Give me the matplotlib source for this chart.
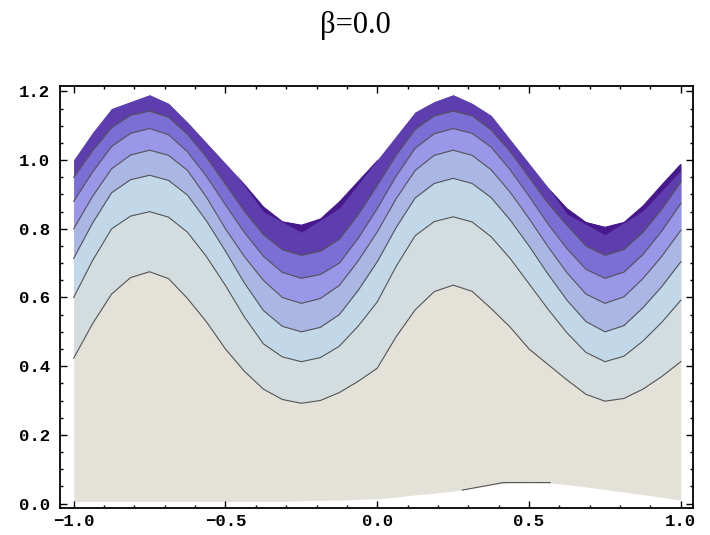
import numpy as np
import matplotlib
matplotlib.use('Agg')
from matplotlib import pyplot as plt
from matplotlib.ticker import MultipleLocator, FuncFormatter
from matplotlib.patches import Polygon

xs = [-1.0, -0.9375, -0.875, -0.8125, -0.75, -0.6875, -0.625, -0.5625, -0.5,
      -0.4375, -0.375, -0.3125, -0.25, -0.1875, -0.125, -0.0625, 0.0,
      0.0625, 0.125, 0.1875, 0.25, 0.3125, 0.375, 0.4375, 0.5,
      0.5625, 0.625, 0.6875, 0.75, 0.8125, 0.875, 0.9375, 1.0]

# upper edge of the filled region (wavy wall)
top_edge = [1.00, 1.08, 1.15, 1.17, 1.19, 1.165, 1.11, 1.05, 0.99,
            0.93, 0.865, 0.822, 0.812, 0.83, 0.88, 0.94, 1.00,
            1.07, 1.14, 1.17, 1.19, 1.165, 1.13, 1.06, 0.99,
            0.92, 0.86, 0.82, 0.806, 0.82, 0.868, 0.93, 0.99]
# lower edge of the filled region
bottom_edge = [0.006, 0.006, 0.006, 0.006, 0.006, 0.006, 0.006, 0.006, 0.006,
               0.006, 0.006, 0.006, 0.008, 0.009, 0.010, 0.012, 0.014,
               0.019, 0.025, 0.030, 0.036, 0.045, 0.054, 0.060, 0.061,
               0.060, 0.055, 0.048, 0.041, 0.033, 0.026, 0.018, 0.010]

# contour lines, top to bottom
line_1 = [0.95, 1.028, 1.095, 1.131, 1.143, 1.125, 1.075, 1.008, 0.93,
          0.851, 0.783, 0.739, 0.723, 0.735, 0.77, 0.842, 0.927,
          1.015, 1.09, 1.129, 1.143, 1.129, 1.088, 1.025, 0.95,
          0.874, 0.81, 0.750, 0.723, 0.740, 0.79, 0.858, 0.937]
line_2 = [0.88, 0.966, 1.04, 1.078, 1.092, 1.074, 1.024, 0.953, 0.87,
          0.789, 0.72, 0.673, 0.656, 0.667, 0.70, 0.773, 0.859,
          0.954, 1.035, 1.077, 1.092, 1.078, 1.038, 0.972, 0.895,
          0.814, 0.742, 0.682, 0.656, 0.674, 0.725, 0.794, 0.874]
line_3 = [0.80, 0.895, 0.975, 1.015, 1.029, 1.014, 0.97, 0.892, 0.80,
          0.719, 0.65, 0.600, 0.583, 0.597, 0.635, 0.707, 0.791,
          0.888, 0.97, 1.014, 1.029, 1.014, 0.972, 0.907, 0.83,
          0.748, 0.672, 0.610, 0.583, 0.602, 0.655, 0.720, 0.796]
line_4 = [0.714, 0.817, 0.905, 0.943, 0.956, 0.941, 0.898, 0.823, 0.735,
          0.642, 0.562, 0.516, 0.50, 0.513, 0.55, 0.621, 0.704,
          0.804, 0.89, 0.932, 0.947, 0.932, 0.891, 0.826, 0.75,
          0.668, 0.592, 0.530, 0.50, 0.518, 0.57, 0.632, 0.704]
line_5 = [0.60, 0.708, 0.80, 0.837, 0.85, 0.834, 0.79, 0.719, 0.635,
          0.543, 0.465, 0.427, 0.413, 0.425, 0.458, 0.517, 0.587,
          0.691, 0.78, 0.821, 0.835, 0.820, 0.777, 0.714, 0.64,
          0.566, 0.497, 0.440, 0.413, 0.429, 0.473, 0.528, 0.592]
line_6 = [0.423, 0.524, 0.61, 0.658, 0.675, 0.655, 0.597, 0.529, 0.45,
          0.385, 0.333, 0.303, 0.292, 0.300, 0.323, 0.356, 0.394,
          0.486, 0.564, 0.617, 0.636, 0.618, 0.568, 0.514, 0.45,
          0.405, 0.360, 0.318, 0.298, 0.306, 0.333, 0.370, 0.413]

# darkest level, only reached near the two troughs
dark1_x = [-0.5, -0.375, -0.25, -0.125, 0.0]
dark1_y = [1.0, 0.85, 0.79, 0.86, 1.0]
dark2_x = [0.5, 0.625, 0.75, 0.875, 1.0]
dark2_y = [1.0, 0.843, 0.783, 0.852, 0.97]

# short contour piece along the bottom bump
bump_x = [0.28, 0.415, 0.57]
bump_y = [0.039, 0.061, 0.061]

title = "\u03b2=0.0"

band_colors = ['#E4E2D8', '#D3DDE0', '#C2D8E8', '#AAB6E4',
               '#9A97E8', '#7B6FD6', '#5E3DAE']
darkest_color = '#47198C'
line_color = '#555555'


def tick_fmt(v, pos):
    return "{:.1f}".format(v).replace('-', '\u2212')


def main():
    fig = plt.figure(figsize=(7.1, 5.35), dpi=100)
    ax = fig.add_axes([0.0845, 0.0505, 0.8915, 0.7885])

    lines = [line_6, line_5, line_4, line_3, line_2, line_1]

    # bands, bottom one first, each goes up to the wall
    ax.fill_between(xs, bottom_edge, top_edge, color=band_colors[0], lw=0)
    for line, col in zip(lines, band_colors[1:]):
        ax.fill_between(xs, line, top_edge, color=col, lw=0)

    # darkest band, cut to the region under the wall
    region = Polygon(np.column_stack([xs + xs[::-1], top_edge + bottom_edge[::-1]]),
                     closed=True, transform=ax.transData)
    for dx, dy in [(dark1_x, dark1_y), (dark2_x, dark2_y)]:
        d = ax.fill_between(dx, dy, 1.3, color=darkest_color, lw=0)
        d.set_clip_path(region)

    for line in lines:
        ax.plot(xs, line, color=line_color, lw=0.8)
    ax.plot(bump_x, bump_y, color=line_color, lw=0.8)

    ax.set_xlim(-1.045, 1.04)
    ax.set_ylim(-0.013, 1.2155)

    ax.xaxis.set_major_locator(MultipleLocator(0.5))
    ax.xaxis.set_minor_locator(MultipleLocator(0.1))
    ax.yaxis.set_major_locator(MultipleLocator(0.2))
    ax.yaxis.set_minor_locator(MultipleLocator(0.05))
    ax.xaxis.set_major_formatter(FuncFormatter(tick_fmt))
    ax.yaxis.set_major_formatter(FuncFormatter(tick_fmt))
    ax.tick_params(which='both', direction='in', top=True, right=True,
                   width=1.0, color='black')
    ax.tick_params(which='major', length=5)
    ax.tick_params(which='minor', length=2.5)
    ax.tick_params(axis='y', pad=7)
    ax.tick_params(axis='x', pad=4)
    for lab in ax.get_xticklabels() + ax.get_yticklabels():
        lab.set_family('Liberation Mono')
        lab.set_fontsize(12.5)
        lab.set_fontweight('bold')
    for sp in ax.spines.values():
        sp.set_linewidth(1.3)

    fig.text(0.5, 1 - 26 / 535, title, ha='center', va='center',
             family='Liberation Serif', fontsize=22)

    fig.savefig('out.png', dpi=100)


if __name__ == "__main__":
    main()
